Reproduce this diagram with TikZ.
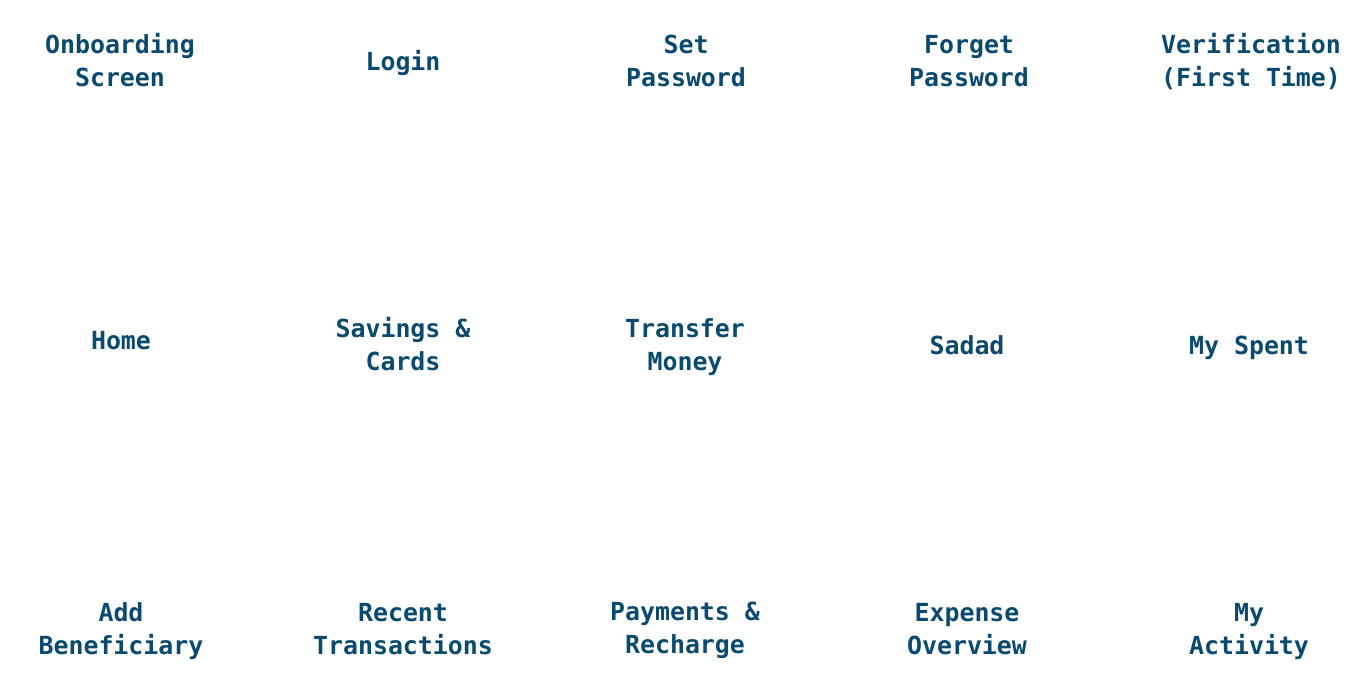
\documentclass[tikz,border=0pt]{standalone}
\usepackage{fontspec}
\setmonofont{DejaVu Sans Mono}
\usepackage{xcolor}
\usepackage{tikz}
\definecolor{screenblue}{HTML}{0B4A6F}

\begin{document}
\begin{tikzpicture}[x=1pt, y=-1pt,
      screen/.style={font=\ttfamily\bfseries\fontsize{24.9}{33}\selectfont,
        text=screenblue, align=center, inner sep=0pt}]
      \useasboundingbox (0,0) rectangle (1372,688);
      % first row
      \node[screen] (onboard) at (120,60) {Onboarding\\Screen};
      \node[screen] (login) at (403,63) {Login};
      \node[screen] (setpw) at (686,61) {Set\\Password};
      \node[screen] (forgetpw) at (969,61) {Forget\\Password};
      \node[screen] (verify) at (1251,62) {Verification\\(First Time)};
      % second row
      \node[screen] (home) at (121,341) {Home};
      \node[screen] (savings) at (403,344) {Savings \&\\Cards};
      \node[screen] (transfer) at (685,347) {Transfer\\Money};
      \node[screen] (sadad) at (967,345) {Sadad};
      \node[screen] (spent) at (1249,348) {My Spent};
      % third row
      \node[screen] (addben) at (121,631) {Add\\Beneficiary};
      \node[screen] (recent) at (403,629) {Recent\\Transactions};
      \node[screen] (payments) at (685,630.5) {Payments \&\\Recharge};
      \node[screen] (expense) at (967,629) {Expense\\Overview};
      \node[screen] (activity) at (1249,631.5) {My\\Activity};
    \end{tikzpicture}
\end{document}
